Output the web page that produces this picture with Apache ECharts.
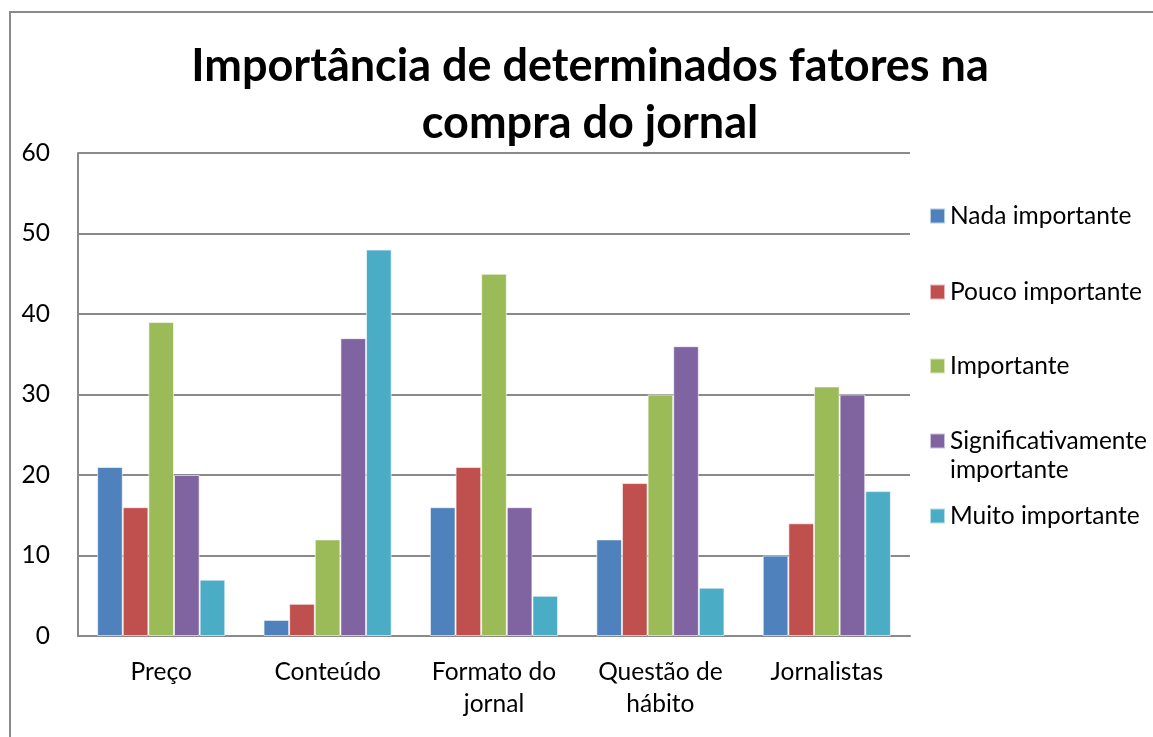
<!DOCTYPE html>
<html>
<head>
<meta charset="utf-8">
<script src="https://cdn.jsdelivr.net/npm/echarts@6/dist/echarts.min.js"></script>
<style>
  html, body { margin: 0; padding: 0; background: #fff; }
  #frame { position: absolute; left: 9px; top: 11px; width: 1200px; height: 800px; border-left: 2px solid #8a8a8a; border-top: 2px solid #8a8a8a; box-sizing: border-box; }
  #chart { position: absolute; left: 0; top: 0; width: 1153px; height: 737px; }
</style>
</head>
<body>
<div id="frame"></div>
<div id="chart"></div>
<script>
const categories = ['Preço', 'Conteúdo', 'Formato do\njornal', 'Questão de\nhábito', 'Jornalistas'];
const seriesNames = ['Nada importante', 'Pouco importante', 'Importante', 'Significativamente importante', 'Muito importante'];
const nadaImportante = [21, 2, 16, 12, 10];
const poucoImportante = [16, 4, 21, 19, 14];
const importante = [39, 12, 45, 30, 31];
const significativamente = [20, 37, 16, 36, 30];
const muitoImportante = [7, 48, 5, 6, 18];
const colors = ['#4F81BD', '#C0504D', '#9BBB59', '#8064A2', '#4BACC6'];

const FONT = 'Lato';
const LABEL_SIZE = 24.5;
const values = [nadaImportante, poucoImportante, importante, significativamente, muitoImportante];
const legendCenters = [216, 292, 366, 441, 516];

const myChart = echarts.init(document.getElementById('chart'));

// uma legenda por item, para controlar a posição vertical de cada uma
const legends = seriesNames.map((name, i) => ({
  data: [name],
  left: 929,
  top: legendCenters[i] - 13,
  padding: 0,
  itemWidth: 15,
  itemHeight: 15,
  icon: 'rect',
  selectedMode: false,
  formatter: n => (n === 'Significativamente importante' ? 'Significativamente' : n),
  textStyle: { fontFamily: FONT, fontSize: LABEL_SIZE, lineHeight: 26, color: '#000' }
}));

myChart.setOption({
  animation: false,
  color: colors,
  title: {
    text: 'Importância de determinados fatores na\ncompra do jornal',
    left: 585,
    textAlign: 'center',
    top: 33,
    textStyle: { fontFamily: FONT, fontWeight: 'bold', fontSize: 45, lineHeight: 57, color: '#000' }
  },
  legend: legends,
  graphic: [{
    type: 'text',
    left: 950,
    top: 472 - 14,
    style: { text: 'importante', font: LABEL_SIZE + 'px ' + FONT, fill: '#000' }
  }],
  grid: { left: 78, right: 243, top: 153, bottom: 101 },
  xAxis: {
    type: 'category',
    data: categories,
    axisLine: { lineStyle: { color: '#8a8a8a', width: 2 } },
    axisTick: { show: false },
    axisLabel: { fontFamily: FONT, fontSize: LABEL_SIZE, color: '#000', lineHeight: 32, margin: 20 }
  },
  yAxis: {
    type: 'value',
    min: 0,
    max: 60,
    interval: 10,
    axisLine: { show: true, lineStyle: { color: '#8a8a8a', width: 2 } },
    axisTick: { show: false },
    splitLine: { lineStyle: { color: '#8a8a8a', width: 2 } },
    axisLabel: { fontFamily: FONT, fontSize: LABEL_SIZE, color: '#000', margin: 28 }
  },
  series: seriesNames.map((name, i) => ({
    name: name,
    type: 'bar',
    data: values[i],
    barGap: '0%',
    barCategoryGap: '23%',
    itemStyle: { color: colors[i], borderColor: 'rgba(255,255,255,0.6)', borderWidth: 1 }
  }))
});
</script>
</body>
</html>
